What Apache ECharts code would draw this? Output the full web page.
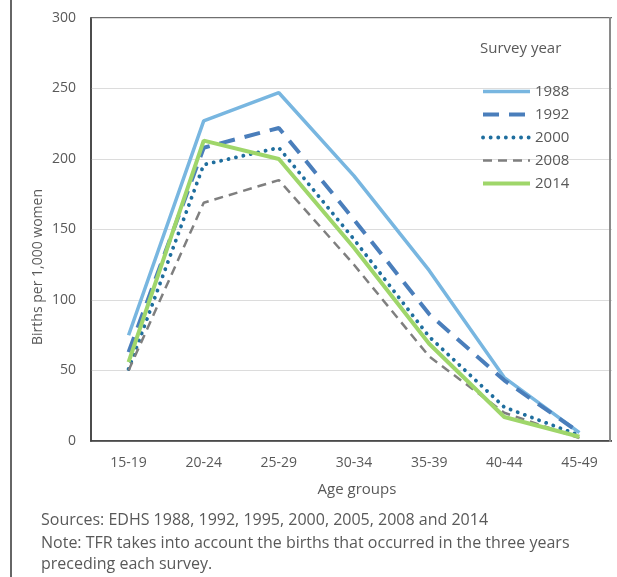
<!DOCTYPE html>
<html>
<head>
<meta charset="utf-8">
<script src="https://cdn.jsdelivr.net/npm/echarts@6/dist/echarts.min.js"></script>
<style>
html,body{margin:0;padding:0;background:#fff;}
#c{width:617px;height:577px;}
</style>
</head>
<body>
<div id="c"></div>
<script>
var categories = ['15-19','20-24','25-29','30-34','35-39','40-44','45-49'];
var s1988 = [75, 227, 247, 188, 121, 45, 6];
var s1992 = [63, 208, 222, 157, 90, 43, 6];
var s2000 = [51, 196, 208, 143, 74, 24, 4];
var s2008 = [50, 169, 185, 125, 60, 20, 2];
var s2014 = [56, 213, 200, 137, 69, 17, 3];
var yTicks = [0, 50, 100, 150, 200, 250, 300];
var years = ['1988','1992','2000','2008','2014'];

var FONT = 'Open Sans';
var GREY = '#595959';

var styles = {
  '1988': {color: '#78b6e0', width: 3.5, type: 'solid', cap: 'butt'},
  '1992': {color: '#4a7ebb', width: 4, type: [16, 10], cap: 'butt'},
  '2000': {color: '#1f6e9e', width: 3.8, type: [0.1, 7.5], cap: 'round'},
  '2008': {color: '#7f7f7f', width: 2.5, type: [9, 6], cap: 'butt'},
  '2014': {color: '#9fd66a', width: 4, type: 'solid', cap: 'butt'}
};

var chart = echarts.init(document.getElementById('c'), null, {renderer:'canvas'});

function mk(name, data) {
  var s = styles[name];
  return {
    name: name, type: 'line', data: data, symbol: 'none', smooth: false,
    lineStyle: {color: s.color, width: s.width, type: s.type, cap: s.cap},
    itemStyle: {color: s.color},
    emphasis: {disabled: true},
    animation: false
  };
}

chart.setOption({
  animation: false,
  grid: {left: 91, top: 18, right: -23, bottom: 136, show: true,
         borderColor: '#404040', borderWidth: 1.5, backgroundColor: 'transparent'},
  xAxis: {
    type: 'category', data: categories, boundaryGap: true,
    axisLine: {show: true, lineStyle: {color: '#404040', width: 1.5}},
    axisTick: {show: false},
    axisLabel: {color: GREY, fontFamily: FONT, fontSize: 14, margin: 15}
  },
  yAxis: {
    type: 'value', min: yTicks[0], max: yTicks[yTicks.length-1], interval: 50,
    axisLine: {show: true, lineStyle: {color: '#404040', width: 1.5}},
    axisTick: {show: false},
    splitLine: {show: true, lineStyle: {color: '#dcdcdc', width: 1}},
    axisLabel: {color: GREY, fontFamily: FONT, fontSize: 14, margin: 15}
  },
  legend: {
    orient: 'vertical', left: 476, top: 79,
    itemWidth: 47, itemHeight: 14, itemGap: 8,
    itemStyle: {opacity: 0},
    textStyle: {color: GREY, fontFamily: FONT, fontSize: 15},
    data: years.map(function (y) {
      var s = styles[y];
      return {name: y, lineStyle: {width: s.width, type: s.type, cap: s.cap, color: s.color}};
    })
  },
  series: [
    mk('1988', s1988),
    mk('1992', s1992),
    mk('2000', s2000),
    mk('2008', s2008),
    mk('2014', s2014)
  ],
  graphic: [
    {type: 'rect', z: 100, shape: {x: 612, y: 0, width: 10, height: 460}, style: {fill: '#fff'}},
    {type: 'line', z: 101, shape: {x1: 610, y1: 17, x2: 610, y2: 442}, style: {stroke: '#8a8a8a', lineWidth: 2}},
    {type: 'line', z: 101, shape: {x1: 11, y1: 0, x2: 11, y2: 577}, style: {stroke: '#666', lineWidth: 2}},
    {type: 'text', z: 101, x: 480, y: 49, style: {text: 'Survey year', fill: GREY, font: '15px "Open Sans"', textVerticalAlign: 'middle'}},
    {type: 'text', z: 101, x: 357, y: 490, style: {text: 'Age groups', fill: GREY, font: '15px "Open Sans"', textAlign: 'center', textVerticalAlign: 'middle'}},
    {type: 'text', z: 101, x: 38, y: 267, rotation: Math.PI/2, style: {text: 'Births per 1,000 women', fill: GREY, font: '14px "Open Sans"', textAlign: 'center', textVerticalAlign: 'middle'}},
    {type: 'text', z: 101, x: 41, y: 520, style: {text: 'Sources: EDHS 1988, 1992, 1995, 2000, 2005, 2008 and 2014', fill: GREY, font: '16px "Open Sans"', textVerticalAlign: 'middle'}},
    {type: 'text', z: 101, x: 41, y: 543, style: {text: 'Note: TFR takes into account the births that occurred in the three years', fill: GREY, font: '16px "Open Sans"', textVerticalAlign: 'middle'}},
    {type: 'text', z: 101, x: 41, y: 564, style: {text: 'preceding each survey.', fill: GREY, font: '16px "Open Sans"', textVerticalAlign: 'middle'}}
  ]
});
</script>
</body>
</html>
